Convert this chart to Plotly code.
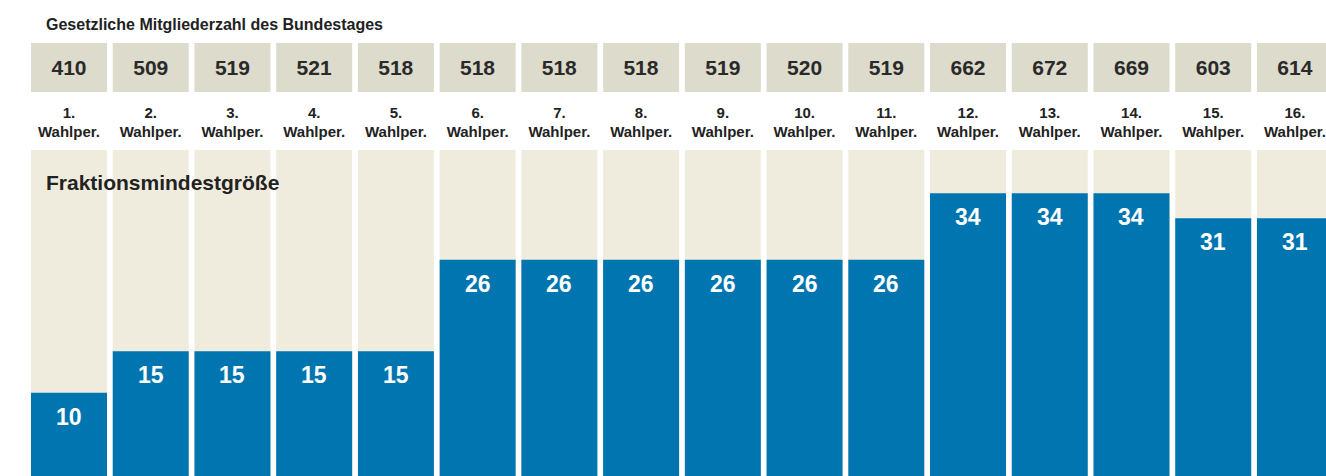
import plotly.graph_objects as go

periods = ["1.", "2.", "3.", "4.", "5.", "6.", "7.", "8.", "9.", "10.",
           "11.", "12.", "13.", "14.", "15.", "16."]
members = [410, 509, 519, 521, 518, 518, 518, 518, 519, 520, 519, 662, 672, 669, 603, 614]
min_size = [10, 15, 15, 15, 15, 26, 26, 26, 26, 26, 26, 34, 34, 34, 31, 31]

title_text = "Gesetzliche Mitgliederzahl des Bundestages"
series_label = "Fraktionsmindestgröße"
period_word = "Wahlper."

FONT = "Liberation Sans, Arial, Helvetica, sans-serif"
BLUE = "#0075b0"
BEIGE = "#f0ecdd"
GRAY = "#dddbcb"
DARK = "#222222"

W, H = 1326, 476
MT = 43
Y_TOP = 39.2
BAR_W = 0.93
PITCH = 81.73

n = len(periods)
xs = list(range(n))
paper_h = H - MT


def py(page_pix):
    return (H - page_pix) / paper_h


fig = go.Figure()

# beige background columns
fig.add_trace(go.Bar(x=xs, y=[Y_TOP] * n, width=BAR_W, marker=dict(color=BEIGE, line=dict(width=0)),
                     hoverinfo="skip", showlegend=False, xaxis="x", yaxis="y"))
# blue bars
fig.add_trace(go.Bar(x=xs, y=min_size, width=BAR_W, marker=dict(color=BLUE, line=dict(width=0)),
                     showlegend=False, xaxis="x", yaxis="y"))
# gray member boxes
fig.add_trace(go.Bar(x=xs, y=[1] * n, width=BAR_W, marker=dict(color=GRAY, line=dict(width=0)),
                     text=["<b>%d</b>" % m for m in members], textposition="inside",
                     insidetextanchor="middle",
                     textfont=dict(family=FONT, size=21, color="#2a2a2a"),
                     textangle=0,
                     showlegend=False, xaxis="x", yaxis="y2"))

annotations = []
for i, v in enumerate(min_size):
    annotations.append(dict(x=i, y=v, xref="x", yref="y", text="<b>%d</b>" % v,
                            showarrow=False, yanchor="top", yshift=-9,
                            font=dict(family=FONT, size=23, color="white")))

annotations.append(dict(x=44 / W, y=py(25), xref="paper", yref="paper", text="<b>" + title_text + "</b>",
                        showarrow=False, xanchor="left", yanchor="middle",
                        font=dict(family=FONT, size=16, color=DARK)))
annotations.append(dict(x=44 / W, y=py(182), xref="paper", yref="paper", text="<b>" + series_label + "</b>",
                        showarrow=False, xanchor="left", yanchor="middle",
                        font=dict(family=FONT, size=21, color=DARK)))

x_min = -69 / PITCH
x_max = x_min + W / PITCH

fig.update_layout(
    width=W, height=H,
    margin=dict(l=0, r=0, t=MT, b=0, pad=0),
    paper_bgcolor="white", plot_bgcolor="white",
    barmode="overlay",
    font=dict(family=FONT, color=DARK),
    xaxis=dict(range=[x_min, x_max], side="top", anchor="y",
               tickvals=xs, ticktext=["<b>%s<br>%s</b>" % (p, period_word) for p in periods],
               tickfont=dict(family=FONT, size=15, color=DARK),
               showgrid=False, zeroline=False, showline=False, ticks="",
               ticklabelstandoff=9, fixedrange=True),
    yaxis=dict(domain=[0, py(150)], range=[0, Y_TOP], visible=False, fixedrange=True),
    yaxis2=dict(domain=[py(92), 1], range=[0, 1], visible=False, fixedrange=True),
    annotations=annotations,
    uniformtext=dict(minsize=10, mode="show"),
)

fig.write_html("out.html",
               config={"displayModeBar": False},
               post_script="document.body.style.margin='0';document.body.style.overflow='hidden';")
